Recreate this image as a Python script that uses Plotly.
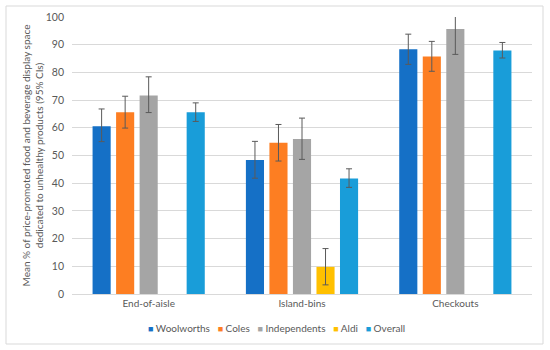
import plotly.graph_objects as go

categories = ["End-of-aisle", "Island-bins", "Checkouts"]
series_names = ["Woolworths", "Coles", "Independents", "Aldi", "Overall"]

woolworths_mean = [60.6, 48.4, 88.4]
woolworths_lo = [55.0, 41.8, 82.9]
woolworths_hi = [66.8, 55.1, 93.8]

coles_mean = [65.6, 54.6, 85.7]
coles_lo = [59.9, 48.0, 80.4]
coles_hi = [71.4, 61.2, 91.2]

independents_mean = [71.7, 56.0, 95.7]
independents_lo = [65.5, 48.6, 86.5]
independents_hi = [78.4, 63.5, 104.9]

aldi_mean = [None, 9.8, None]
aldi_lo = [None, 3.3, None]
aldi_hi = [None, 16.4, None]

overall_mean = [65.6, 41.7, 87.9]
overall_lo = [62.3, 38.5, 85.2]
overall_hi = [69.0, 45.2, 90.8]

colors = ["#1570C6", "#FD7E22", "#A5A5A5", "#FFC000", "#199DD9"]

series = [
    (woolworths_mean, woolworths_lo, woolworths_hi),
    (coles_mean, coles_lo, coles_hi),
    (independents_mean, independents_lo, independents_hi),
    (aldi_mean, aldi_lo, aldi_hi),
    (overall_mean, overall_lo, overall_hi),
]

FONT = "Lato"
TXT = "#595959"

fig = go.Figure()
for name, color, (m, lo, hi) in zip(series_names, colors, series):
    plus = [None if v is None else h - v for v, h in zip(m, hi)]
    minus = [None if v is None else v - l for v, l in zip(m, lo)]
    fig.add_trace(go.Bar(
        name=name, x=categories, y=m, marker_color=color,
        marker_line_width=0, showlegend=False,
        error_y=dict(type="data", array=plus, arrayminus=minus, visible=True,
                     color="#5A5A5A", thickness=1, width=3),
    ))

L, R, T, B = 72, 18, 17, 56
W, H = 550, 350
pw, ph = W - L - R, H - T - B

legend_text = "&nbsp;&nbsp;&nbsp;".join(
    f"<span style='color:{c};font-size:9px'>■</span>&nbsp;{n}" for n, c in zip(series_names, colors)
)

fig.update_layout(
    width=W, height=H,
    margin=dict(l=L, r=R, t=T, b=B, autoexpand=False),
    barmode="group", bargap=0.233, bargroupgap=0.23,
    plot_bgcolor="white", paper_bgcolor="white",
    font=dict(family=FONT, size=10, color=TXT),
    showlegend=False,
    yaxis=dict(range=[0, 100], dtick=10, showgrid=True, gridcolor="#D9D9D9",
               gridwidth=1, zeroline=False, showline=False, ticks="",
               automargin=False, ticklabelstandoff=7,
               tickfont=dict(family=FONT, size=10.5, color=TXT),
               title=dict(text="Mean % of price-promoted food and beverage display space<br>dedicated to unhealthy products (95% CIs)",
                          font=dict(family=FONT, size=10, color=TXT), standoff=0)),
    xaxis=dict(showline=True, linecolor="#D9D9D9", linewidth=1, ticks="",
               automargin=False,
               tickfont=dict(family=FONT, size=10, color=TXT)),
    annotations=[dict(text=legend_text, xref="paper", yref="paper",
                      x=(276 - L) / pw, y=(294 - 328) / ph, xanchor="center", yanchor="middle",
                      showarrow=False, font=dict(family=FONT, size=10, color=TXT))],
    shapes=[dict(type="rect", xref="paper", yref="paper",
                 x0=(6 - L) / pw, x1=(543 - L) / pw,
                 y0=(H - B - 344) / ph, y1=(H - B - 6) / ph,
                 line=dict(color="#D9D9D9", width=1), fillcolor="rgba(0,0,0,0)",
                 layer="below")],
)

fig.write_html("out.html", config={"displayModeBar": False},
               post_script="document.body.style.margin='0';document.body.style.padding='0';")
